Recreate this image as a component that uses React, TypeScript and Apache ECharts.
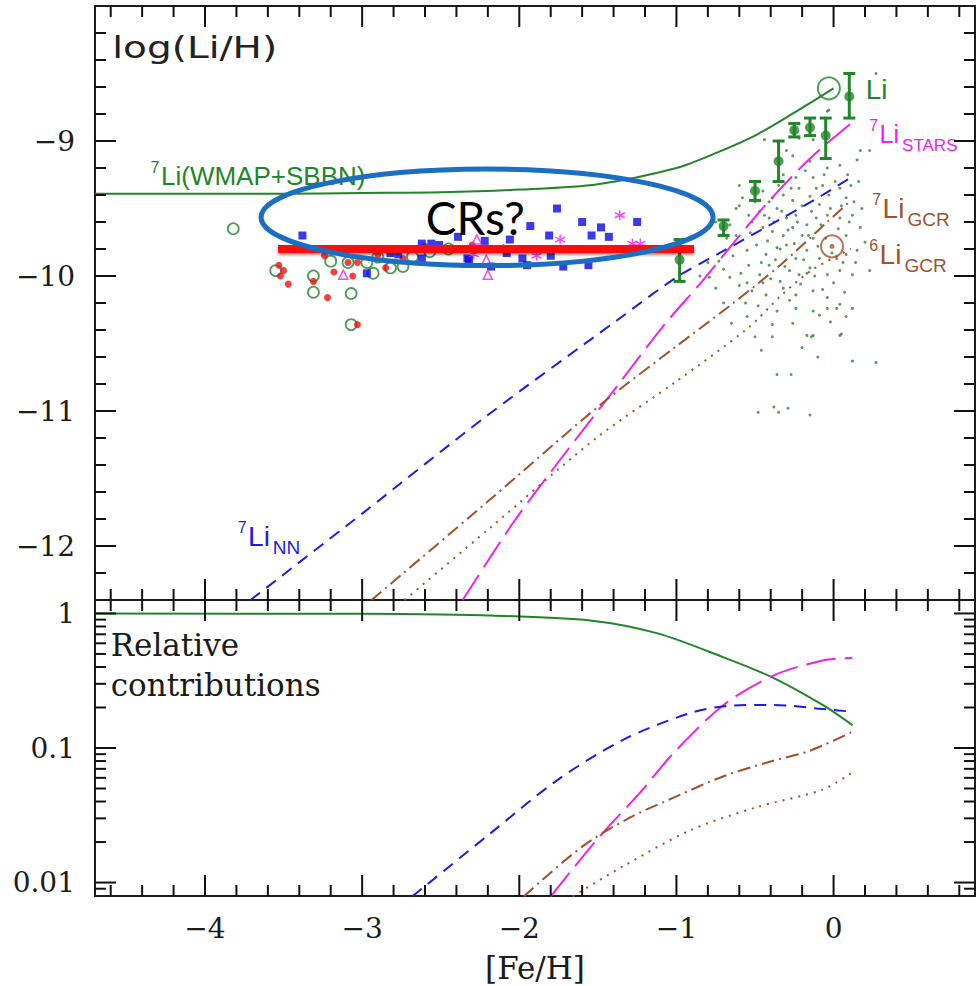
import React, { useEffect, useRef } from 'react';
import * as echarts from 'echarts';

// ---------- axis ranges ----------
const X_MIN = -4.7;
const X_MAX = 0.9;
const TOP_MIN = -12.4;
const TOP_MAX = -8.0;
const BOT_LOG_MIN = -2.1;
const BOT_LOG_MAX = 0.1;

// ---------- tick positions ----------
const xMajorTicks = [-4, -3, -2, -1, 0];
const xMinorTicks = [-4.6, -4.4, -4.2, -3.8, -3.6, -3.4, -3.2, -2.8, -2.6, -2.4, -2.2, -1.8, -1.6, -1.4, -1.2, -0.8, -0.6, -0.4, -0.2, 0.2, 0.4, 0.6, 0.8];
const topYMajorTicks = [-12, -11, -10, -9];
const topYMinorTicks = [-12.2, -11.8, -11.6, -11.4, -11.2, -10.8, -10.6, -10.4, -10.2, -9.8, -9.6, -9.4, -9.2, -8.8, -8.6, -8.4, -8.2];
const botYMajorRatios = [0.01, 0.1, 1];
const botYMinorRatios = [0.009, 0.02, 0.03, 0.04, 0.05, 0.06, 0.07, 0.08, 0.09, 0.2, 0.3, 0.4, 0.5, 0.6, 0.7, 0.8, 0.9];

// ---------- top panel model curves: [Fe/H] vs log(Li/H) ----------
const totalLiFe = [-4.7, -4.0, -3.5, -3.0, -2.5, -2.0, -1.5, -1.0, -0.75, -0.5, -0.25, 0.0];
const totalLiVal = [-9.39, -9.39, -9.39, -9.385, -9.38, -9.36, -9.32, -9.2, -9.09, -8.96, -8.79, -8.61];

const starsFe = [-2.36, -2.04, -1.7, -1.38, -1.09, -0.83, -0.64, -0.43, -0.15, 0.11];
const starsVal = [-12.4, -11.83, -11.3, -10.82, -10.38, -10.03, -9.76, -9.47, -9.13, -8.87];

const nnFe = [-3.71, -3.0, -2.2, -1.38, -1.0, -0.71, -0.34, -0.07, 0.11];
const nnVal = [-12.4, -11.76, -11.03, -10.33, -10.01, -9.82, -9.58, -9.4, -9.27];

const gcr7Fe = [-2.94, -2.19, -1.49, -1.0, -0.66, -0.34, -0.04, 0.11];
const gcr7Val = [-12.4, -11.66, -10.96, -10.52, -10.22, -9.92, -9.6, -9.44];

const gcr6Fe = [-2.73, -2.19, -1.51, -1.0, -0.55, -0.32, -0.13, 0.11];
const gcr6Val = [-12.4, -11.87, -11.2, -10.78, -10.39, -10.13, -9.95, -9.8];

// ---------- bottom panel: relative contributions (ratios) ----------
const fracBbnFe = [-4.7, -3.0, -2.5, -2.18, -1.55, -1.12, -0.7, -0.38, -0.07, 0.12];
const fracBbn = [1.0, 0.993, 0.984, 0.966, 0.887, 0.711, 0.472, 0.331, 0.209, 0.148];
const fracStarsFe = [-1.8, -1.49, -1.23, -1.02, -0.7, -0.38, -0.07, 0.12];
const fracStars = [0.0079, 0.0219, 0.0468, 0.0912, 0.209, 0.347, 0.447, 0.468];
const fracNnFe = [-2.68, -2.18, -1.76, -1.34, -0.91, -0.64, -0.38, -0.07, 0.12];
const fracNn = [0.0079, 0.0234, 0.0575, 0.115, 0.182, 0.207, 0.209, 0.195, 0.186];
const fracGcr7Fe = [-1.97, -1.6, -1.3, -1.0, -0.7, -0.4, -0.15, 0.12];
const fracGcr7 = [0.0079, 0.0185, 0.0302, 0.0437, 0.0617, 0.0794, 0.0955, 0.132];
const fracGcr6Fe = [-1.66, -1.34, -0.91, -0.49, -0.07, 0.12];
const fracGcr6 = [0.0079, 0.0132, 0.0245, 0.0363, 0.049, 0.066];

// ---------- observations ----------
const haloOpenCircles: [number, number][] = [
  [-3.82, -9.65], [-3.55, -9.96], [-3.31, -10.0], [-3.31, -10.12], [-3.2, -9.89], [-3.07, -10.13],
  [-3.07, -10.36], [-2.93, -9.98], [-2.97, -9.9], [-3.09, -9.9], [-2.82, -9.94], [-2.74, -9.93],
  [-2.68, -9.86], [-2.57, -9.82], [-2.9, -9.86], [-2.45, -9.8],
];
const haloRedDots: [number, number][] = [
  [-3.53, -9.92], [-3.5, -9.96], [-3.52, -10.0], [-3.47, -10.06], [-3.31, -10.04], [-3.22, -10.16],
  [-3.24, -9.85], [-3.18, -9.97], [-3.09, -9.9], [-3.03, -9.9], [-3.06, -10.0], [-3.03, -10.36],
  [-2.85, -9.94], [-2.9, -9.84], [-2.74, -9.87], [-2.6, -9.78], [-2.3, -9.77],
];
const haloTriangles: [number, number][] = [[-3.12, -9.99], [-2.27, -9.73], [-2.21, -9.88], [-2.2, -9.99]];
const haloSquares: [number, number][] = [
  [-3.38, -9.7], [-2.97, -9.98], [-2.62, -9.76], [-2.56, -9.76], [-2.51, -9.77], [-2.62, -9.87],
  [-2.39, -9.71], [-2.32, -9.88], [-2.22, -9.74], [-2.82, -9.83], [-2.77, -9.84], [-1.76, -9.5],
  [-1.93, -9.63], [-1.6, -9.6], [-1.48, -9.64], [-1.25, -9.6], [-1.54, -9.7], [-1.43, -9.71],
  [-1.81, -9.7], [-2.06, -9.73], [-1.72, -9.93], [-1.56, -9.92], [-1.95, -9.92], [-1.98, -9.87],
  [-1.8, -9.85], [-2.08, -9.83], [-2.33, -9.87], [-2.18, -9.93],
];
const haloAsterisks: [number, number][] = [
  [-1.36, -9.55], [-1.74, -9.73], [-1.89, -9.85], [-2.29, -9.84], [-1.23, -9.76], [-1.28, -9.76], [-2.1, -9.8],
];
// binned disc stars: [Fe/H], log(Li/H), lower, upper
const discBinned: [number, number, number, number][] = [
  [-0.98, -9.88, -10.04, -9.73], [-0.7, -9.63, -9.7, -9.585], [-0.5, -9.37, -9.44, -9.3],
  [-0.35, -9.15, -9.3, -9.0], [-0.25, -8.92, -8.97, -8.87], [-0.15, -8.9, -8.96, -8.83],
  [-0.05, -8.96, -9.13, -8.83], [0.1, -8.67, -8.83, -8.5],
];
const discDots: [number, number][] = [
  [-0.44, -8.99], [-0.13, -8.99], [-0.04, -8.78], [-0.22, -8.98], [-0.3, -9.07], [-0.26, -9.11], [-0.15, -9.15],
  [-0.04, -9.2], [0.04, -9.18], [0.15, -9.14], [-0.32, -9.25], [-0.24, -9.27], [-0.13, -9.27], [-0.07, -9.33],
  [0.04, -9.35], [0.11, -9.33], [-0.6, -9.33], [-0.45, -9.37], [-0.39, -9.42], [-0.32, -9.4], [-0.26, -9.44],
  [-0.22, -9.35], [-0.15, -9.41], [-0.09, -9.47], [-0.03, -9.4], [0.08, -9.42], [-0.6, -9.48], [-0.54, -9.55],
  [-0.47, -9.52], [-0.41, -9.57], [-0.36, -9.5], [-0.3, -9.57], [-0.24, -9.55], [-0.17, -9.62], [-0.11, -9.57],
  [-0.04, -9.55], [0.04, -9.57], [0.12, -9.55], [-0.45, -9.64], [-0.39, -9.67], [-0.32, -9.7], [-0.26, -9.64],
  [-0.2, -9.7], [-0.13, -9.72], [0.08, -9.7], [0.17, -9.64], [-0.62, -9.7], [-0.55, -9.81], [-0.49, -9.77],
  [-0.43, -9.84], [-0.36, -9.79], [-0.3, -9.77], [-0.24, -9.87], [-0.17, -9.81], [-0.09, -9.87], [0.02, -9.87],
  [0.08, -9.84], [0.15, -9.81], [-0.73, -9.89], [-0.66, -10.01], [-0.54, -9.92], [-0.47, -9.99], [-0.41, -9.92],
  [-0.34, -10.04], [-0.28, -9.96], [-0.22, -9.99], [-0.15, -9.94], [-0.04, -9.99], [0.04, -9.96], [0.12, -9.99],
  [-0.79, -10.01], [-0.75, -10.09], [-0.6, -10.07], [-0.52, -10.11], [-0.43, -10.14], [-0.32, -10.09],
  [-0.24, -10.14], [-0.13, -10.11], [-0.04, -10.16], [0.04, -10.21], [-0.36, -10.26], [-0.24, -10.24],
  [-0.13, -10.26], [-0.09, -10.29], [-0.04, -10.24], [0.02, -10.24], [0.12, -10.24], [-0.39, -10.36],
  [-0.17, -10.44], [-0.13, -10.44], [-0.2, -10.53], [0.04, -10.44], [0.12, -10.63], [0.27, -10.64],
  [-0.36, -10.73], [-0.27, -10.73], [0.23, -9.96], [0.17, -9.07], [-0.03, -8.77], [0.23, -9.07], [0.27, -8.5],
  [-0.39, -10.45], [-0.14, -10.45], [0.05, -10.43], [-0.48, -11.01], [-0.38, -10.97], [-0.35, -11.01],
  [-0.29, -10.98], [-0.15, -11.03], [-0.75, -9.6], [-0.68, -9.72], [-0.62, -9.5], [-0.8, -9.9], [-0.85, -10.0],
  [-0.7, -10.2], [-0.55, -10.3], [-0.5, -10.45], [-0.65, -10.35],
  [-0.58, -9.42], [-0.52, -9.6], [-0.5, -9.45], [-0.46, -9.9], [-0.44, -9.55], [-0.42, -9.74], [-0.4, -10.02],
  [-0.38, -9.6], [-0.37, -9.88], [-0.35, -9.33], [-0.33, -9.52], [-0.31, -9.93], [-0.29, -9.66], [-0.28, -10.18],
  [-0.27, -9.35], [-0.25, -9.76], [-0.23, -9.6], [-0.21, -10.06], [-0.2, -9.48], [-0.19, -9.88], [-0.18, -9.22],
  [-0.16, -9.7], [-0.14, -9.52], [-0.12, -10.0], [-0.11, -9.35], [-0.1, -9.78], [-0.08, -9.62], [-0.07, -10.1],
  [-0.06, -9.25], [-0.05, -9.72], [-0.02, -9.5], [-0.01, -9.83], [0.0, -10.05], [0.01, -9.3], [0.03, -9.65],
  [0.05, -9.48], [0.06, -9.9], [0.07, -10.12], [0.09, -9.25], [0.1, -9.6], [0.13, -9.45], [0.14, -9.9],
  [0.16, -9.3], [0.18, -9.5], [0.2, -9.75], [-0.56, -10.2], [-0.48, -10.22], [-0.45, -10.05], [-0.64, -9.85],
  [-0.7, -9.95], [-0.66, -9.62], [-0.59, -9.98], [-0.53, -9.68], [-0.41, -9.45], [-0.34, -9.8], [-0.17, -9.98],
  [-0.02, -10.34], [0.08, -10.3], [-0.26, -10.35], [-0.46, -10.55], [-0.1, -10.6], [-0.55, -10.05],
];
const solarLi: [number, number] = [-0.03, -8.61];
const solarLi6: [number, number] = [-0.01, -9.78];

// ---------- annotations (data coordinates) ----------
const plateauFe = [-3.535, -0.888];
const plateauVal = -9.8;
const ellipseCenter = [-2.205, -9.565];
const ellipseRadii = [1.438, 0.358];
const crsText = { text: 'CRs?', fe: -2.28, val: -9.57 };

const GREEN = '#23852a';
const MAGENTA = '#ee22ee';
const BLUE = '#1c1ce6';
const BROWN = '#a0522d';
const RED = '#ff1010';
const AX = '#1c1c1c';

const curveLabels = [
  { sup: '7', main: 'Li(WMAP+SBBN)', sub: '', fe: -4.28, val: -9.26, color: GREEN, size: 26 },
  { sup: '', main: 'Li', sub: '', fe: 0.204, val: -8.62, color: GREEN, size: 28 },
  { sup: '7', main: 'Li', sub: 'STARS', fe: 0.293, val: -8.95, color: MAGENTA, size: 25 },
  { sup: '7', main: 'Li', sub: 'GCR', fe: 0.312, val: -9.5, color: BROWN, size: 28 },
  { sup: '6', main: 'Li', sub: 'GCR', fe: 0.293, val: -9.84, color: BROWN, size: 28 },
  { sup: '7', main: 'Li', sub: 'NN', fe: -3.726, val: -11.93, color: BLUE, size: 28 },
];

const zip = (xs: number[], ys: number[]) => xs.map((x, i) => [x, ys[i]]);
const zipLog = (xs: number[], rs: number[]) => xs.map((x, i) => [x, Math.log10(rs[i])]);

const fmtNeg = (v: number) => (Math.abs(v) < 1e-9 ? '0' : v < 0 ? '\u2212' + Math.abs(v) : String(v));
const fmtRatio = (v: number) => String(Number(Math.pow(10, v).toPrecision(1)));

const labelFont = { fontFamily: 'DejaVu Serif', fontSize: 28, color: AX };

function lineSeries(name: string, data: number[][], color: string, dash: any, gi: number, width = 2) {
  return {
    name, type: 'line', data, xAxisIndex: gi, yAxisIndex: gi, showSymbol: false, symbol: 'none',
    smooth: 0.3, z: 4, silent: true,
    lineStyle: { color, width, type: dash },
  };
}

function buildOption() {
  const botMajor = botYMajorRatios.map((r) => Math.log10(r));
  const gridStyle = { show: true, borderColor: AX, borderWidth: 2, backgroundColor: 'rgba(0,0,0,0)' };
  const hidden = { axisLine: { show: false }, axisTick: { show: false }, splitLine: { show: false }, axisPointer: { show: false } };
  return {
    animation: false,
    backgroundColor: '#ffffff',
    grid: [
      { left: 95, top: 6, width: 880, height: 594, ...gridStyle },
      { left: 95, top: 600, width: 880, height: 296, ...gridStyle },
    ],
    xAxis: [
      { type: 'value', gridIndex: 0, position: 'bottom', min: X_MIN, max: X_MAX, ...hidden, axisLabel: { show: false } },
      {
        type: 'value', gridIndex: 1, position: 'bottom', min: X_MIN, max: X_MAX, ...hidden,
        axisLabel: { show: true, customValues: xMajorTicks, margin: 18, formatter: fmtNeg, ...labelFont },
        name: '[Fe/H]', nameLocation: 'middle', nameGap: 56,
        nameTextStyle: { fontFamily: 'DejaVu Serif', fontSize: 31, color: AX },
      },
    ],
    yAxis: [
      {
        type: 'value', gridIndex: 0, position: 'left', min: TOP_MIN, max: TOP_MAX, ...hidden,
        axisLabel: { show: true, customValues: topYMajorTicks, margin: 20, formatter: fmtNeg, ...labelFont },
      },
      {
        type: 'value', gridIndex: 1, position: 'left', min: BOT_LOG_MIN, max: BOT_LOG_MAX, ...hidden,
        axisLabel: { show: true, customValues: botMajor, margin: 20, formatter: fmtRatio, ...labelFont },
      },
    ],
    series: [
      {
        name: 'disc stars', type: 'scatter', data: discDots, xAxisIndex: 0, yAxisIndex: 0,
        symbol: 'circle', symbolSize: 3, z: 2, silent: true,
        itemStyle: { color: '#3a7d3a' },
      },
      lineSeries('Li total', zip(totalLiFe, totalLiVal), GREEN, 'solid', 0, 2),
      lineSeries('7Li stars', zip(starsFe, starsVal), MAGENTA, [30, 9], 0, 2),
      lineSeries('7Li NN', zip(nnFe, nnVal), BLUE, [12, 8], 0, 2),
      lineSeries('7Li GCR', zip(gcr7Fe, gcr7Val), BROWN, [13, 5, 2, 5], 0, 2),
      lineSeries('6Li GCR', zip(gcr6Fe, gcr6Val), BROWN, [2, 6], 0, 2),
      {
        name: 'halo open circles', type: 'scatter', data: haloOpenCircles, xAxisIndex: 0, yAxisIndex: 0,
        symbol: 'circle', symbolSize: 11, z: 5, silent: true,
        itemStyle: { color: 'rgba(255,255,255,0)', borderColor: GREEN, borderWidth: 1.8 },
      },
      {
        name: 'halo red', type: 'scatter', data: haloRedDots, xAxisIndex: 0, yAxisIndex: 0,
        symbol: 'circle', symbolSize: 7, z: 5, silent: true, itemStyle: { color: '#ee1111' },
      },
      {
        name: 'halo squares', type: 'scatter', data: haloSquares, xAxisIndex: 0, yAxisIndex: 0,
        symbol: 'rect', symbolSize: 8, z: 5, silent: true, itemStyle: { color: '#0a0ae8' },
      },
      {
        name: 'halo triangles', type: 'scatter', data: haloTriangles, xAxisIndex: 0, yAxisIndex: 0,
        symbol: 'triangle', symbolSize: 9, z: 5, silent: true,
        itemStyle: { color: 'rgba(255,255,255,0)', borderColor: MAGENTA, borderWidth: 1.5 },
      },
      {
        name: 'halo asterisks', type: 'scatter', data: haloAsterisks, xAxisIndex: 0, yAxisIndex: 0,
        symbol: 'path://M5,0L5,10M0.67,2.5L9.33,7.5M0.67,7.5L9.33,2.5', symbolSize: 10, z: 5, silent: true,
        itemStyle: { color: 'rgba(255,255,255,0)', borderColor: MAGENTA, borderWidth: 1.5 },
      },
      {
        name: 'disc binned errors', type: 'custom', data: discBinned, xAxisIndex: 0, yAxisIndex: 0,
        encode: { x: 0, y: [1, 2, 3] }, z: 6, silent: true,
        renderItem: (params: any, api: any) => {
          const x = api.value(0);
          const lo = api.coord([x, api.value(2)]);
          const hi = api.coord([x, api.value(3)]);
          const w = 6;
          const st = { stroke: GREEN, lineWidth: 3 };
          return {
            type: 'group',
            children: [
              { type: 'line', shape: { x1: lo[0], y1: lo[1], x2: hi[0], y2: hi[1] }, style: st },
              { type: 'line', shape: { x1: lo[0] - w, y1: lo[1], x2: lo[0] + w, y2: lo[1] }, style: st },
              { type: 'line', shape: { x1: hi[0] - w, y1: hi[1], x2: hi[0] + w, y2: hi[1] }, style: st },
            ],
          };
        },
      },
      {
        name: 'disc binned', type: 'scatter', data: discBinned.map((d) => [d[0], d[1]]), xAxisIndex: 0, yAxisIndex: 0,
        symbol: 'circle', symbolSize: 10, z: 7, silent: true, itemStyle: { color: GREEN },
      },
      {
        name: 'solar Li', type: 'scatter', data: [solarLi], xAxisIndex: 0, yAxisIndex: 0,
        symbol: 'circle', symbolSize: 22, z: 7, silent: true,
        itemStyle: { color: 'rgba(255,255,255,0)', borderColor: GREEN, borderWidth: 2 },
      },
      {
        name: 'solar 6Li', type: 'scatter', data: [solarLi6], xAxisIndex: 0, yAxisIndex: 0,
        symbol: 'circle', symbolSize: 22, z: 7, silent: true,
        itemStyle: { color: 'rgba(255,255,255,0)', borderColor: BROWN, borderWidth: 2 },
      },
      {
        name: 'solar 6Li dot', type: 'scatter', data: [solarLi6], xAxisIndex: 0, yAxisIndex: 0,
        symbol: 'circle', symbolSize: 5, z: 7, silent: true, itemStyle: { color: BROWN },
      },
      {
        name: 'plateau', type: 'custom', data: [[plateauFe[0], plateauFe[1], plateauVal]], xAxisIndex: 0, yAxisIndex: 0,
        encode: { x: [0, 1], y: 2 }, z: 8, silent: true,
        renderItem: (params: any, api: any) => {
          const a = api.coord([api.value(0), api.value(2)]);
          const b = api.coord([api.value(1), api.value(2)]);
          return {
            type: 'rect',
            shape: { x: a[0], y: a[1] - 4, width: b[0] - a[0], height: 8 },
            style: { fill: RED, shadowColor: 'rgba(0,0,0,0.45)', shadowBlur: 3, shadowOffsetY: 2 },
          };
        },
      },
      // bottom panel
      lineSeries('frac BBN', zipLog(fracBbnFe, fracBbn), GREEN, 'solid', 1, 2),
      lineSeries('frac stars', zipLog(fracStarsFe, fracStars), MAGENTA, [30, 9], 1, 2),
      lineSeries('frac NN', zipLog(fracNnFe, fracNn), BLUE, [12, 8], 1, 2),
      lineSeries('frac GCR7', zipLog(fracGcr7Fe, fracGcr7), BROWN, [13, 5, 2, 5], 1, 2),
      lineSeries('frac GCR6', zipLog(fracGcr6Fe, fracGcr6), BROWN, [2, 6], 1, 2),
    ],
  };
}

function buildGraphics(chart: any) {
  const tx = (x: number) => chart.convertToPixel({ xAxisIndex: 0 }, x) as number;
  const ty = (y: number) => chart.convertToPixel({ yAxisIndex: 0 }, y) as number;
  const by = (logv: number) => chart.convertToPixel({ yAxisIndex: 1 }, logv) as number;
  const els: any[] = [];

  // ---- ticks for both panels, positioned by the axes' scales ----
  const xl = tx(X_MIN);
  const xr = tx(X_MAX);
  const panels = [
    { top: ty(TOP_MAX), bottom: ty(TOP_MIN), ys: topYMajorTicks.map((v) => ty(v)), ysMinor: topYMinorTicks.map((v) => ty(v)) },
    {
      top: by(BOT_LOG_MAX), bottom: by(BOT_LOG_MIN),
      ys: botYMajorRatios.map((r) => by(Math.log10(r))), ysMinor: botYMinorRatios.map((r) => by(Math.log10(r))),
    },
  ];
  for (const p of panels) {
    const st = { stroke: '#111111', lineWidth: 2 };
    const t = (x1: number, y1: number, x2: number, y2: number) =>
      els.push({ type: 'line', z: 60, shape: { x1, y1, x2, y2 }, style: st });
    for (const [vals, len] of [[xMajorTicks, 21], [xMinorTicks, 11]] as [number[], number][]) {
      for (const v of vals) {
        const px = tx(v);
        t(px, p.bottom, px, p.bottom - len);
        t(px, p.top, px, p.top + len);
      }
    }
    for (const [ys, len] of [[p.ys, 21], [p.ysMinor, 11]] as [number[], number][]) {
      for (const py of ys) {
        t(xl, py, xl + len, py);
        t(xr, py, xr - len, py);
      }
    }
  }

  const cx = tx(ellipseCenter[0]);
  const cy = ty(ellipseCenter[1]);
  els.push({
    type: 'ellipse', z: 100, silent: true,
    shape: { cx, cy, rx: tx(ellipseCenter[0] + ellipseRadii[0]) - cx, ry: ty(ellipseCenter[1] - ellipseRadii[1]) - cy },
    style: { fill: 'none', stroke: '#1b6ec2', lineWidth: 5 },
  });
  els.push({
    type: 'text', z: 101, silent: true, x: tx(crsText.fe), y: ty(crsText.val),
    style: { text: crsText.text, fontFamily: 'Lato', fontSize: 46, fill: '#000', align: 'center', verticalAlign: 'middle' },
  });

  els.push({
    type: 'text', z: 50, silent: true, x: tx(-4.59), y: ty(-8.31), scaleX: 1.3,
    style: { text: 'log(Li/H)', fontFamily: 'DejaVu Sans', fontSize: 30, fill: '#222', align: 'left', verticalAlign: 'middle' },
  });

  for (const l of curveLabels) {
    const x0 = tx(l.fe);
    const y0 = ty(l.val);
    els.push({
      type: 'text', z: 50, silent: true, x: x0, y: y0,
      style: { text: l.main, fontFamily: 'Liberation Sans', fontSize: l.size, fill: l.color, align: 'left', verticalAlign: 'middle' },
    });
    if (l.sup) {
      els.push({
        type: 'text', z: 50, silent: true, x: x0 - 1.5, y: y0 - 9,
        style: { text: l.sup, fontFamily: 'Liberation Sans', fontSize: 16, fill: l.color, align: 'right', verticalAlign: 'middle' },
      });
    }
    if (l.sub) {
      els.push({
        type: 'text', z: 50, silent: true, x: x0 + 0.778 * l.size + 3, y: y0 + 11,
        style: { text: l.sub, fontFamily: 'Liberation Sans', fontSize: l.sub === 'STARS' ? 17 : 19, fill: l.color, align: 'left', verticalAlign: 'middle' },
      });
    }
  }

  els.push({
    type: 'text', z: 50, silent: true, x: tx(-4.6), y: by(Math.log10(0.58)),
    style: { text: 'Relative', fontFamily: 'DejaVu Serif', fontSize: 31, fill: '#1a1a1a', align: 'left', verticalAlign: 'middle' },
  });
  els.push({
    type: 'text', z: 50, silent: true, x: tx(-4.6), y: by(Math.log10(0.293)),
    style: { text: 'contributions', fontFamily: 'DejaVu Serif', fontSize: 31, fill: '#1a1a1a', align: 'left', verticalAlign: 'middle' },
  });
  return els;
}

export default function App() {
  const ref = useRef<HTMLDivElement>(null);
  useEffect(() => {
    const el = ref.current;
    if (!el) return;
    const chart = echarts.init(el, null, { renderer: 'svg' });
    chart.setOption(buildOption() as any);
    chart.setOption({ graphic: buildGraphics(chart) } as any);
    return () => chart.dispose();
  }, []);
  return (
    <div
      ref={ref}
      style={{ position: 'fixed', left: 0, top: 0, width: 976, height: 986, background: '#fff' }}
    />
  );
}
